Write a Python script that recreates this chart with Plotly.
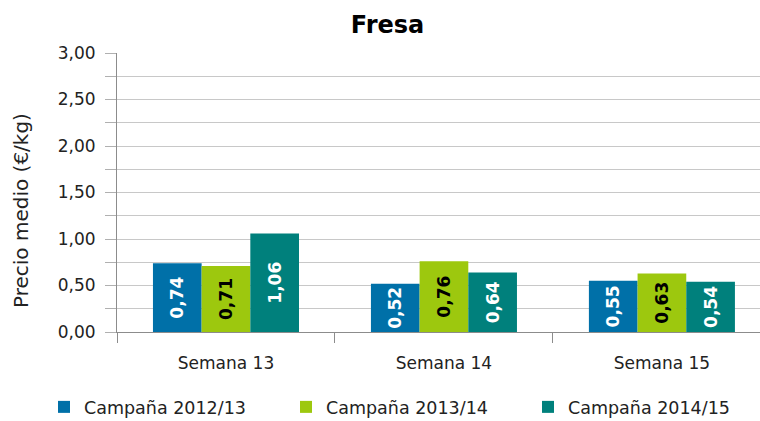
import plotly.graph_objects as go

categories = ["Semana 13", "Semana 14", "Semana 15"]
series_names = ["Campaña 2012/13", "Campaña 2013/14", "Campaña 2014/15"]
v_2012 = [0.74, 0.52, 0.55]
v_2013 = [0.71, 0.76, 0.63]
v_2014 = [1.06, 0.64, 0.54]
colors = ["#0070A8", "#9DC80E", "#00807C"]
text_colors = ["white", "black", "white"]

FONT = "DejaVu Sans"
TXT = "#222222"

fig = go.Figure()
for name, vals, c, tc in zip(series_names, [v_2012, v_2013, v_2014], colors, text_colors):
    fig.add_trace(go.Bar(
        x=categories, y=vals, name=name, marker=dict(color=c, line=dict(width=0)),
        text=[f"{v:.2f}".replace(".", ",") for v in vals],
        textposition="inside", insidetextanchor="middle", textangle=-90,
        textfont=dict(family=FONT, size=17, color=tc, weight="bold"),
        cliponaxis=False,
    ))

fig.update_layout(
    width=760, height=421,
    margin=dict(l=117, r=0, t=53, b=89, autoexpand=False),
    paper_bgcolor="white", plot_bgcolor="white",
    barmode="group", bargap=0.33, bargroupgap=0,
    separators=",.",
    font=dict(family=FONT, color=TXT),
    title=dict(text="<b>Fresa</b>", x=387.5 / 760, xanchor="center", y=1 - 25 / 421, yanchor="middle",
               font=dict(family=FONT, size=24, color="black")),
    showlegend=True,
    legend=dict(orientation="h", x=-0.1135, xanchor="left", y=(332 - 407) / 279, yanchor="middle",
                font=dict(family=FONT, size=17.5, color=TXT),
                entrywidth=197, entrywidthmode="pixels", itemwidth=30,
                bgcolor="rgba(0,0,0,0)"),
    annotations=[dict(text="Precio medio (€/kg)", textangle=-90, xref="paper", yref="paper",
                      x=(21 - 117) / 643, y=(332 - 210) / 279, xanchor="center", yanchor="middle",
                      showarrow=False, font=dict(family=FONT, size=20, color=TXT))],
)

fig.update_xaxes(
    range=[-0.5, 2.45], showline=True, linecolor="#8c8c8c", linewidth=1,
    ticks="outside", ticklen=10, tickcolor="#8c8c8c", tickson="boundaries",
    tickfont=dict(family=FONT, size=17, color=TXT), ticklabelstandoff=16,
    showgrid=False, zeroline=False, automargin=False,
)
fig.update_yaxes(
    range=[0, 3], dtick=0.5, tick0=0, tickformat=".2f",
    showline=True, linecolor="#8c8c8c", linewidth=1,
    ticks="outside", ticklen=11, tickcolor="#b0b0b0",
    showgrid=True, gridcolor="#c8c8c8", gridwidth=1,
    minor=dict(dtick=0.25, showgrid=True, gridcolor="#c8c8c8", ticks="outside", ticklen=11, tickcolor="#b0b0b0"),
    zeroline=False, automargin=False,
    tickfont=dict(family=FONT, size=17, color=TXT), ticklabelstandoff=6,
)

fig.write_html("out.html")
